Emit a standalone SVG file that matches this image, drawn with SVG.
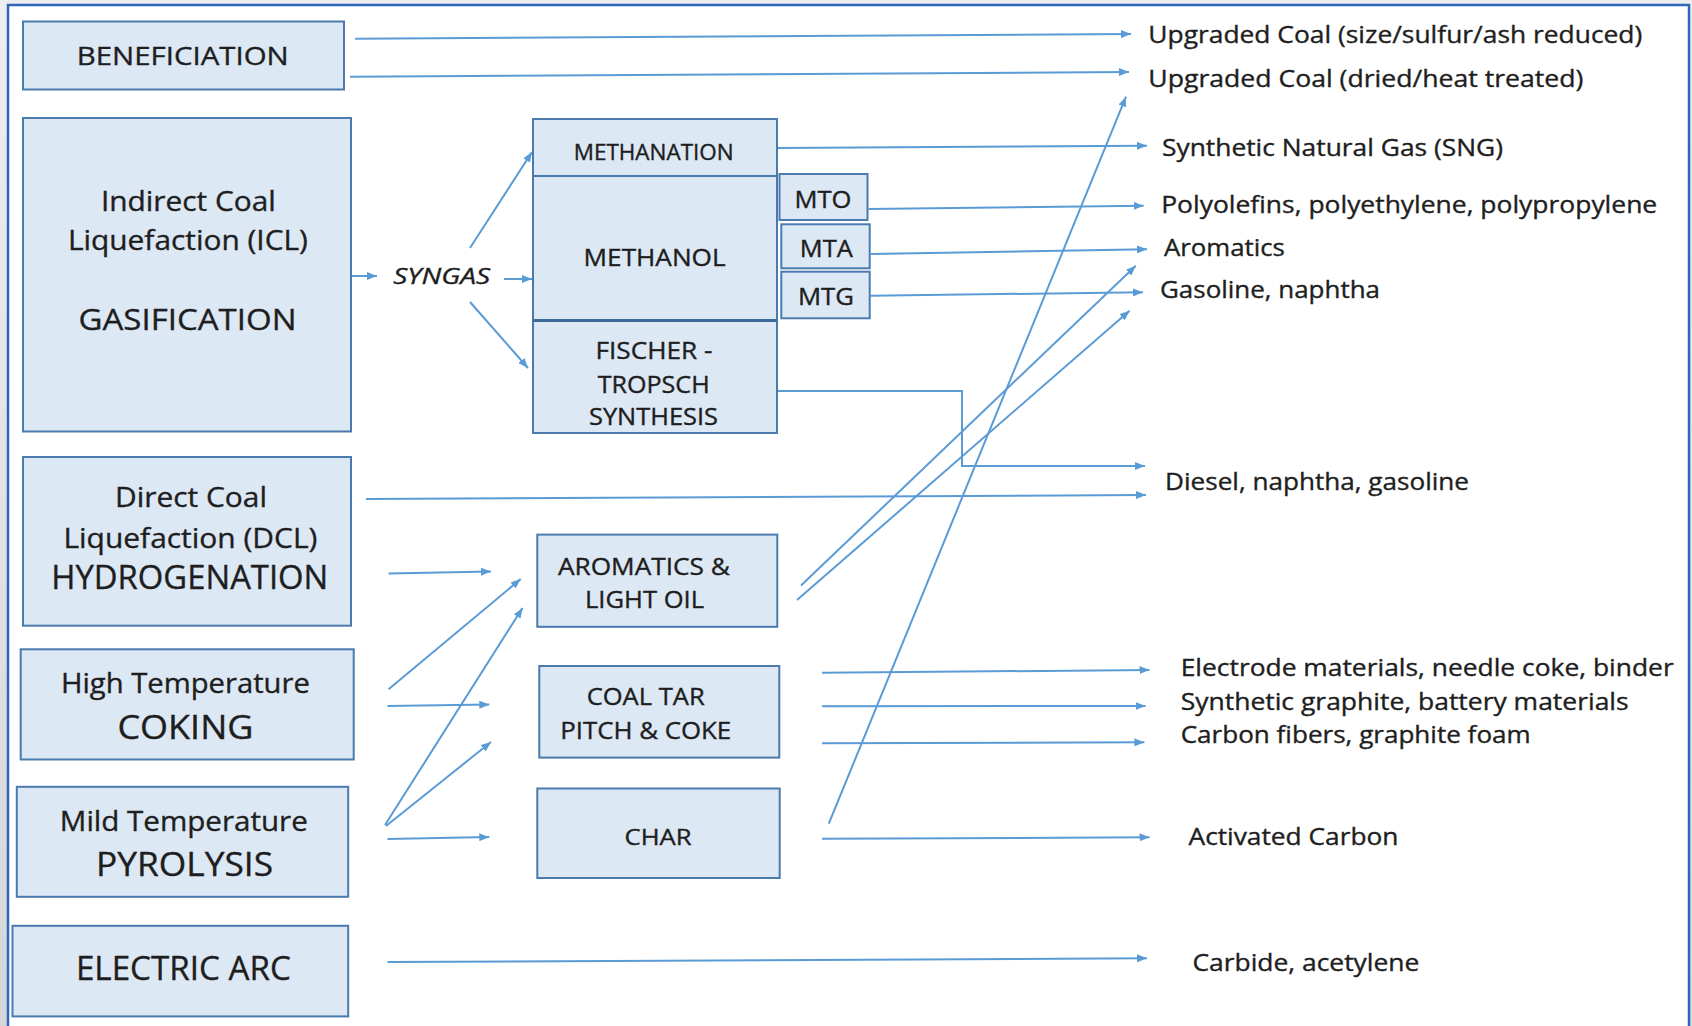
<svg xmlns="http://www.w3.org/2000/svg" width="1692" height="1026" viewBox="0 0 1692 1026">
<defs>
<linearGradient id="bg" x1="0" y1="0" x2="0" y2="1">
<stop offset="0" stop-color="#eceef1"/>
<stop offset="1" stop-color="#d4d6da"/>
</linearGradient>
<marker id="ah" viewBox="0 0 10 8" refX="10" refY="4" markerWidth="10" markerHeight="8" markerUnits="userSpaceOnUse" orient="auto">
<path d="M0,0L10,4L0,8z" fill="#5b9bd5"/>
</marker>
<style>
.box{fill:#dde8f5;stroke:#4a7aae;stroke-width:2}
.c{fill:none;stroke:#5b9bd5;stroke-width:2;marker-end:url(#ah)}
.t{font-family:"Open Sans","Liberation Sans",sans-serif;fill:#1e1e1e;stroke:#1e1e1e;stroke-width:0.35;text-anchor:middle}
.o{font-family:"Open Sans","Liberation Sans",sans-serif;fill:#1e1e1e;stroke:#1e1e1e;stroke-width:0.35;font-size:23px}
</style>
</defs>
<rect x="0" y="0" width="1692" height="1026" fill="url(#bg)"/>
<rect x="8" y="5" width="1681" height="1030" fill="#ffffff" stroke="#2f66b6" stroke-width="2.5"/>

<g id="connectors">
<path class="c" d="M355,38.7L1131,34"/>
<path class="c" d="M350,76.7L1129,72"/>
<path class="c" d="M352,276L377,276"/>
<path class="c" d="M504,279L532,279"/>
<path class="c" d="M470,248L532,152"/>
<path class="c" d="M470,302L528,368"/>
<path class="c" d="M777.5,148L1147,145.7"/>
<path class="c" d="M868.5,209L1143.6,205.7"/>
<path class="c" d="M871,254L1147,249.3"/>
<path class="c" d="M870.5,295.7L1143,292.3"/>
<path class="c" d="M777.5,391L962,391L962,466L1145,466"/>
<path class="c" d="M366,499L1146,495"/>
<path class="c" d="M388.6,573.4L491,571.5"/>
<path class="c" d="M388.6,689.3L520.7,579"/>
<path class="c" d="M387.5,706L489.3,704.6"/>
<path class="c" d="M385,825L522.5,608"/>
<path class="c" d="M386,826L491,742"/>
<path class="c" d="M387.5,839L489.3,837"/>
<path class="c" d="M801,585.5L1135.8,265.7"/>
<path class="c" d="M797,600L1129.6,310.7"/>
<path class="c" d="M828.8,823.7L1126,96.7"/>
<path class="c" d="M822,672.8L1149.5,670"/>
<path class="c" d="M822,706.3L1145.6,706"/>
<path class="c" d="M822,743.2L1144.4,742.3"/>
<path class="c" d="M822,838.8L1149.5,837.3"/>
<path class="c" d="M387.5,962L1147,958.3"/>
</g>

<g id="beneficiation">
<rect class="box" x="23" y="21.5" width="321" height="68"/>
<text class="t" x="182.7" y="65" font-size="25" textLength="212" lengthAdjust="spacingAndGlyphs">BENEFICIATION</text>
</g>

<g id="gasification">
<rect class="box" x="23" y="118" width="328" height="313.5"/>
<text class="t" x="188.4" y="211" font-size="27" textLength="175" lengthAdjust="spacingAndGlyphs">Indirect Coal</text>
<text class="t" x="187.9" y="250" font-size="27" textLength="240" lengthAdjust="spacingAndGlyphs">Liquefaction (ICL)</text>
<text class="t" x="187.5" y="330" font-size="30" textLength="218" lengthAdjust="spacingAndGlyphs">GASIFICATION</text>
</g>

<g id="syngas">
<text class="t" x="441.7" y="284.3" font-size="22.5" font-style="italic" textLength="97" lengthAdjust="spacingAndGlyphs">SYNGAS</text>
</g>

<g id="methanation">
<rect class="box" x="533" y="119" width="244" height="57"/>
<text class="t" x="653.7" y="160" font-size="21" textLength="160" lengthAdjust="spacingAndGlyphs">METHANATION</text>
</g>

<g id="methanol">
<rect class="box" x="533" y="176" width="244" height="144.5"/>
<text class="t" x="654.6" y="265.7" font-size="23" textLength="142" lengthAdjust="spacingAndGlyphs">METHANOL</text>
</g>

<g id="fischer-tropsch">
<rect class="box" x="533" y="320.5" width="244" height="112.5"/>
<line x1="533" y1="320.5" x2="777" y2="320.5" stroke="#3f6b9c" stroke-width="3"/>
<text class="t" x="654" y="359" font-size="23" textLength="117" lengthAdjust="spacingAndGlyphs">FISCHER -</text>
<text class="t" x="653.7" y="392.7" font-size="23" textLength="112" lengthAdjust="spacingAndGlyphs">TROPSCH</text>
<text class="t" x="653.5" y="425" font-size="23" textLength="129" lengthAdjust="spacingAndGlyphs">SYNTHESIS</text>
</g>

<g id="mto">
<rect class="box" x="779.5" y="174" width="88" height="46"/>
<text class="t" x="823" y="208.3" font-size="23" textLength="57" lengthAdjust="spacingAndGlyphs">MTO</text>
</g>

<g id="mta">
<rect class="box" x="781.3" y="224.3" width="88.4" height="44"/>
<text class="t" x="826.3" y="256.7" font-size="23" textLength="53" lengthAdjust="spacingAndGlyphs">MTA</text>
</g>

<g id="mtg">
<rect class="box" x="781.3" y="271.7" width="88.4" height="46.6"/>
<text class="t" x="825.9" y="305" font-size="23" textLength="56" lengthAdjust="spacingAndGlyphs">MTG</text>
</g>

<g id="hydrogenation">
<rect class="box" x="23" y="457" width="328" height="168.7"/>
<text class="t" x="191" y="507.3" font-size="27" textLength="152" lengthAdjust="spacingAndGlyphs">Direct Coal</text>
<text class="t" x="190.4" y="547.6" font-size="27" textLength="254" lengthAdjust="spacingAndGlyphs">Liquefaction (DCL)</text>
<text class="t" x="189.8" y="588.7" font-size="32" textLength="277" lengthAdjust="spacingAndGlyphs">HYDROGENATION</text>
</g>

<g id="coking">
<rect class="box" x="20.7" y="649.3" width="333" height="110.2"/>
<text class="t" x="185.4" y="693" font-size="27" textLength="249" lengthAdjust="spacingAndGlyphs">High Temperature</text>
<text class="t" x="185.4" y="739" font-size="33" textLength="136" lengthAdjust="spacingAndGlyphs">COKING</text>
</g>

<g id="pyrolysis">
<rect class="box" x="16.8" y="786.8" width="331.4" height="110"/>
<text class="t" x="183.8" y="830.5" font-size="27" textLength="248" lengthAdjust="spacingAndGlyphs">Mild Temperature</text>
<text class="t" x="184.5" y="876" font-size="33" textLength="177" lengthAdjust="spacingAndGlyphs">PYROLYSIS</text>
</g>

<g id="electric-arc">
<rect class="box" x="12.5" y="925.8" width="335.7" height="90.6"/>
<text class="t" x="183.4" y="980" font-size="32" textLength="215" lengthAdjust="spacingAndGlyphs">ELECTRIC ARC</text>
</g>

<g id="aromatics-light-oil">
<rect class="box" x="537.3" y="534.6" width="240" height="92.2"/>
<text class="t" x="643.9" y="574.5" font-size="23" textLength="172" lengthAdjust="spacingAndGlyphs">AROMATICS &amp;</text>
<text class="t" x="644.5" y="608" font-size="23" textLength="119" lengthAdjust="spacingAndGlyphs">LIGHT OIL</text>
</g>

<g id="coal-tar-pitch-coke">
<rect class="box" x="539.3" y="666" width="240" height="91.6"/>
<text class="t" x="645.7" y="705.3" font-size="23" textLength="118" lengthAdjust="spacingAndGlyphs">COAL TAR</text>
<text class="t" x="645.7" y="738.8" font-size="23" textLength="171" lengthAdjust="spacingAndGlyphs">PITCH &amp; COKE</text>
</g>

<g id="char">
<rect class="box" x="537.3" y="788.5" width="242.4" height="89.5"/>
<text class="t" x="658" y="844.5" font-size="22" textLength="67" lengthAdjust="spacingAndGlyphs">CHAR</text>
</g>

<g id="outputs">
<text class="o" x="1148.3" y="43.3" textLength="494" lengthAdjust="spacingAndGlyphs">Upgraded Coal (size/sulfur/ash reduced)</text>
<text class="o" x="1148.3" y="86.7" textLength="435" lengthAdjust="spacingAndGlyphs">Upgraded Coal (dried/heat treated)</text>
<text class="o" x="1162" y="155.7" textLength="341" lengthAdjust="spacingAndGlyphs">Synthetic Natural Gas (SNG)</text>
<text class="o" x="1161.2" y="213" textLength="496" lengthAdjust="spacingAndGlyphs">Polyolefins, polyethylene, polypropylene</text>
<text class="o" x="1163.9" y="255.7" textLength="121" lengthAdjust="spacingAndGlyphs">Aromatics</text>
<text class="o" x="1160" y="297.7" textLength="220" lengthAdjust="spacingAndGlyphs">Gasoline, naphtha</text>
<text class="o" x="1165" y="490" textLength="304" lengthAdjust="spacingAndGlyphs">Diesel, naphtha, gasoline</text>
<text class="o" x="1180.7" y="676" textLength="493" lengthAdjust="spacingAndGlyphs">Electrode materials, needle coke, binder</text>
<text class="o" x="1180.7" y="710" textLength="448" lengthAdjust="spacingAndGlyphs">Synthetic graphite, battery materials</text>
<text class="o" x="1180.7" y="743.3" textLength="350" lengthAdjust="spacingAndGlyphs">Carbon fibers, graphite foam</text>
<text class="o" x="1188.5" y="845" textLength="210" lengthAdjust="spacingAndGlyphs">Activated Carbon</text>
<text class="o" x="1192.4" y="970.7" textLength="227" lengthAdjust="spacingAndGlyphs">Carbide, acetylene</text>
</g>
</svg>
